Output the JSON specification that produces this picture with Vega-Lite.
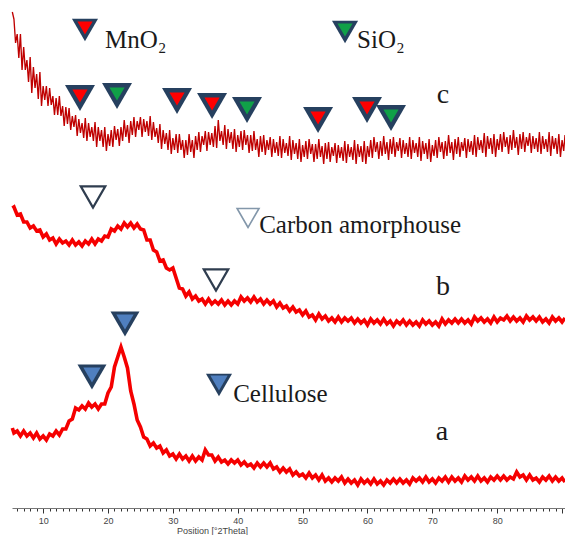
{
"$schema": "https://vega.github.io/schema/vega-lite/v6.json",
"width": 553, "height": 508,
"autosize": {"type": "none"},
"padding": {"left": 12, "top": 0, "right": 0, "bottom": 27},
"background": "white",
"config": {"view": {"stroke": null}},
"datasets": {
"xrd": [
{"x":5.25,"a":80,"b":300},{"x":5.5,"a":75,"b":301},{"x":6,"a":77,"b":293},{"x":6.5,"a":72,"b":294},{"x":7,"a":77,"b":286},{"x":7.5,"a":72,"b":286},{"x":8,"a":75,"b":280},{"x":8.5,"a":70,"b":282},{"x":9,"a":75,"b":277},{"x":9.5,"a":69,"b":278},
{"x":10,"a":72,"b":271},{"x":10.5,"a":68,"b":274},{"x":11,"a":74,"b":268},{"x":11.5,"a":72,"b":270},{"x":12,"a":77,"b":264},{"x":12.5,"a":73,"b":269},{"x":13,"a":79,"b":265},{"x":13.5,"a":79,"b":267},{"x":14,"a":87,"b":263},{"x":14.5,"a":89,"b":268},
{"x":15,"a":100,"b":263},{"x":15.5,"a":98,"b":266},{"x":16,"a":102,"b":262},{"x":16.5,"a":99,"b":267},{"x":17,"a":105,"b":264},{"x":17.5,"a":101,"b":269},{"x":18,"a":104,"b":264},{"x":18.5,"a":99,"b":269},{"x":19,"a":104,"b":267},{"x":19.5,"a":104,"b":272},
{"x":20,"a":115,"b":271},{"x":20.5,"a":121,"b":279},{"x":21,"a":141,"b":277},{"x":21.5,"a":151,"b":282},{"x":22,"a":161,"b":279},{"x":22.5,"a":151,"b":285},{"x":23,"a":140,"b":281},{"x":23.5,"a":117,"b":285},{"x":24,"a":104,"b":280},{"x":24.5,"a":88,"b":284},
{"x":25,"a":81,"b":279},{"x":25.5,"a":71,"b":278},{"x":26,"a":69,"b":268},{"x":26.5,"a":62,"b":268},{"x":27,"a":65,"b":258},{"x":27.5,"a":60,"b":256},{"x":28,"a":62,"b":247},{"x":28.5,"a":55,"b":248},{"x":29,"a":58,"b":240},{"x":29.5,"a":52,"b":238},
{"x":30,"a":54,"b":240},{"x":30.5,"a":49,"b":230},{"x":31,"a":54,"b":220},{"x":31.5,"a":49,"b":219},{"x":32,"a":52,"b":212},{"x":32.5,"a":47,"b":216},{"x":33,"a":52,"b":209},{"x":33.5,"a":47,"b":212},{"x":34,"a":51,"b":207},{"x":34.5,"a":48,"b":209},
{"x":35,"a":58,"b":204},{"x":35.5,"a":53,"b":209},{"x":36,"a":53,"b":204},{"x":36.5,"a":47,"b":207},{"x":37,"a":51,"b":204},{"x":37.5,"a":46,"b":208},{"x":38,"a":48,"b":203},{"x":38.5,"a":44,"b":207},{"x":39,"a":48,"b":203},{"x":39.5,"a":45,"b":207},
{"x":40,"a":48,"b":204},{"x":40.5,"a":43,"b":211},{"x":41,"a":46,"b":207},{"x":41.5,"a":42,"b":210},{"x":42,"a":44,"b":206},{"x":42.5,"a":40,"b":211},{"x":43,"a":45,"b":206},{"x":43.5,"a":41,"b":209},{"x":44,"a":45,"b":204},{"x":44.5,"a":41,"b":208},
{"x":45,"a":45,"b":204},{"x":45.5,"a":39,"b":207},{"x":46,"a":41,"b":201},{"x":46.5,"a":36,"b":205},{"x":47,"a":40,"b":200},{"x":47.5,"a":36,"b":202},{"x":48,"a":39,"b":197},{"x":48.5,"a":33,"b":201},{"x":49,"a":36,"b":196},{"x":49.5,"a":32,"b":198},
{"x":50,"a":34,"b":193},{"x":50.5,"a":30,"b":197},{"x":51,"a":35,"b":191},{"x":51.5,"a":30,"b":193},{"x":52,"a":33,"b":188},{"x":52.5,"a":28,"b":194},{"x":53,"a":33,"b":189},{"x":53.5,"a":27,"b":192},{"x":54,"a":30,"b":187},{"x":54.5,"a":26,"b":190},
{"x":55,"a":30,"b":186},{"x":55.5,"a":27,"b":191},{"x":56,"a":31,"b":186},{"x":56.5,"a":25,"b":190},{"x":57,"a":29,"b":187},{"x":57.5,"a":25,"b":190},{"x":58,"a":28,"b":185},{"x":58.5,"a":23,"b":189},{"x":59,"a":29,"b":185},{"x":59.5,"a":25,"b":188},
{"x":60,"a":28,"b":183},{"x":60.5,"a":24,"b":189},{"x":61,"a":29,"b":185},{"x":61.5,"a":24,"b":188},{"x":62,"a":27,"b":184},{"x":62.5,"a":23,"b":189},{"x":63,"a":28,"b":184},{"x":63.5,"a":25,"b":187},{"x":64,"a":29,"b":182},{"x":64.5,"a":25,"b":187},
{"x":65,"a":29,"b":184},{"x":65.5,"a":25,"b":188},{"x":66,"a":28,"b":183},{"x":66.5,"a":24,"b":187},{"x":67,"a":30,"b":183},{"x":67.5,"a":27,"b":186},{"x":68,"a":30,"b":182},{"x":68.5,"a":26,"b":188},{"x":69,"a":31,"b":184},{"x":69.5,"a":26,"b":187},
{"x":70,"a":29,"b":183},{"x":70.5,"a":25,"b":186},{"x":71,"a":30,"b":182},{"x":71.5,"a":27,"b":189},{"x":72,"a":31,"b":184},{"x":72.5,"a":26,"b":188},{"x":73,"a":31,"b":185},{"x":73.5,"a":27,"b":189},{"x":74,"a":30,"b":185},{"x":74.5,"a":26,"b":189},
{"x":75,"a":32,"b":185},{"x":75.5,"a":28,"b":188},{"x":76,"a":31,"b":184},{"x":76.5,"a":27,"b":191},{"x":77,"a":32,"b":187},{"x":77.5,"a":27,"b":190},{"x":78,"a":30,"b":186},{"x":78.5,"a":26,"b":189},{"x":79,"a":31,"b":185},{"x":79.5,"a":28,"b":191},
{"x":80,"a":32,"b":186},{"x":80.5,"a":28,"b":190},{"x":81,"a":32,"b":188},{"x":81.5,"a":28,"b":192},{"x":82,"a":31,"b":187},{"x":82.5,"a":29,"b":191},{"x":83,"a":36,"b":187},{"x":83.5,"a":31,"b":190},{"x":84,"a":33,"b":186},{"x":84.5,"a":28,"b":192},
{"x":85,"a":33,"b":188},{"x":85.5,"a":28,"b":191},{"x":86,"a":30,"b":187},{"x":86.5,"a":26,"b":191},{"x":87,"a":31,"b":186},{"x":87.5,"a":28,"b":189},{"x":88,"a":32,"b":185},{"x":88.5,"a":27,"b":191},{"x":89,"a":31,"b":187},{"x":89.5,"a":27,"b":190},
{"x":90,"a":30,"b":186},{"x":90.45,"a":26,"b":190}
],
"xrdc": [
{"x":5.25,"c":496},{"x":5.5,"c":489},{"x":5.75,"c":465},{"x":6,"c":474},{"x":6.25,"c":450},{"x":6.5,"c":474},{"x":6.75,"c":438},{"x":7,"c":461},{"x":7.25,"c":438},{"x":7.5,"c":448},{"x":7.75,"c":426},{"x":8,"c":451},{"x":8.25,"c":415},{"x":8.5,"c":441},{"x":8.75,"c":420},{"x":9,"c":434},{"x":9.25,"c":409},{"x":9.5,"c":436},{"x":9.75,"c":402},
{"x":10,"c":422},{"x":10.25,"c":408},{"x":10.5,"c":422},{"x":10.75,"c":402},{"x":11,"c":420},{"x":11.25,"c":403},{"x":11.5,"c":412},{"x":11.75,"c":393},{"x":12,"c":410},{"x":12.25,"c":393},{"x":12.5,"c":412},{"x":12.75,"c":392},{"x":13,"c":402},{"x":13.25,"c":382},{"x":13.5,"c":401},{"x":13.75,"c":384},{"x":14,"c":400},{"x":14.25,"c":378},{"x":14.5,"c":392},{"x":14.75,"c":381},
{"x":15,"c":393},{"x":15.25,"c":372},{"x":15.5,"c":389},{"x":15.75,"c":375},{"x":16,"c":385},{"x":16.25,"c":370},{"x":16.5,"c":390},{"x":16.75,"c":367},{"x":17,"c":385},{"x":17.25,"c":371},{"x":17.5,"c":381},{"x":17.75,"c":367},{"x":18,"c":386},{"x":18.25,"c":361},{"x":18.5,"c":381},{"x":18.75,"c":367},{"x":19,"c":378},{"x":19.25,"c":361},{"x":19.5,"c":381},{"x":19.75,"c":357},
{"x":20,"c":374},{"x":20.25,"c":362},{"x":20.5,"c":378},{"x":20.75,"c":361},{"x":21,"c":382},{"x":21.25,"c":368},{"x":21.5,"c":379},{"x":21.75,"c":362},{"x":22,"c":381},{"x":22.25,"c":367},{"x":22.5,"c":388},{"x":22.75,"c":371},{"x":23,"c":383},{"x":23.25,"c":365},{"x":23.5,"c":387},{"x":23.75,"c":373},{"x":24,"c":391},{"x":24.25,"c":371},{"x":24.5,"c":387},{"x":24.75,"c":378},
{"x":25,"c":391},{"x":25.25,"c":371},{"x":25.5,"c":389},{"x":25.75,"c":376},{"x":26,"c":387},{"x":26.25,"c":372},{"x":26.5,"c":392},{"x":26.75,"c":368},{"x":27,"c":386},{"x":27.25,"c":371},{"x":27.5,"c":380},{"x":27.75,"c":365},{"x":28,"c":384},{"x":28.25,"c":359},{"x":28.5,"c":378},{"x":28.75,"c":364},{"x":29,"c":375},{"x":29.25,"c":358},{"x":29.5,"c":378},{"x":29.75,"c":354},
{"x":30,"c":370},{"x":30.25,"c":358},{"x":30.5,"c":374},{"x":30.75,"c":355},{"x":31,"c":374},{"x":31.25,"c":358},{"x":31.5,"c":368},{"x":31.75,"c":350},{"x":32,"c":368},{"x":32.25,"c":353},{"x":32.5,"c":374},{"x":32.75,"c":356},{"x":33,"c":368},{"x":33.25,"c":350},{"x":33.5,"c":372},{"x":33.75,"c":358},{"x":34,"c":376},{"x":34.25,"c":356},{"x":34.5,"c":372},{"x":34.75,"c":363},
{"x":35,"c":377},{"x":35.25,"c":357},{"x":35.5,"c":376},{"x":35.75,"c":363},{"x":36,"c":375},{"x":36.25,"c":361},{"x":36.5,"c":382},{"x":36.75,"c":360},{"x":37,"c":388},{"x":37.25,"c":367},{"x":37.5,"c":377},{"x":37.75,"c":363},{"x":38,"c":383},{"x":38.25,"c":359},{"x":38.5,"c":379},{"x":38.75,"c":365},{"x":39,"c":376},{"x":39.25,"c":359},{"x":39.5,"c":379},{"x":39.75,"c":356},
{"x":40,"c":373},{"x":40.25,"c":361},{"x":40.5,"c":377},{"x":40.75,"c":358},{"x":41,"c":378},{"x":41.25,"c":363},{"x":41.5,"c":373},{"x":41.75,"c":355},{"x":42,"c":373},{"x":42.25,"c":357},{"x":42.5,"c":377},{"x":42.75,"c":358},{"x":43,"c":369},{"x":43.25,"c":351},{"x":43.5,"c":372},{"x":43.75,"c":356},{"x":44,"c":373},{"x":44.25,"c":353},{"x":44.5,"c":368},{"x":44.75,"c":358},
{"x":45,"c":371},{"x":45.25,"c":351},{"x":45.5,"c":369},{"x":45.75,"c":355},{"x":46,"c":366},{"x":46.25,"c":352},{"x":46.5,"c":372},{"x":46.75,"c":350},{"x":47,"c":369},{"x":47.25,"c":355},{"x":47.5,"c":365},{"x":47.75,"c":352},{"x":48,"c":372},{"x":48.25,"c":348},{"x":48.5,"c":368},{"x":48.75,"c":354},{"x":49,"c":365},{"x":49.25,"c":349},{"x":49.5,"c":369},{"x":49.75,"c":346},
{"x":50,"c":363},{"x":50.25,"c":351},{"x":50.5,"c":367},{"x":50.75,"c":349},{"x":51,"c":369},{"x":51.25,"c":354},{"x":51.5,"c":364},{"x":51.75,"c":346},{"x":52,"c":364},{"x":52.25,"c":349},{"x":52.5,"c":369},{"x":52.75,"c":351},{"x":53,"c":362},{"x":53.25,"c":344},{"x":53.5,"c":365},{"x":53.75,"c":349},{"x":54,"c":366},{"x":54.25,"c":346},{"x":54.5,"c":361},{"x":54.75,"c":352},
{"x":55,"c":365},{"x":55.25,"c":345},{"x":55.5,"c":363},{"x":55.75,"c":350},{"x":56,"c":361},{"x":56.25,"c":347},{"x":56.5,"c":367},{"x":56.75,"c":345},{"x":57,"c":364},{"x":57.25,"c":351},{"x":57.5,"c":361},{"x":57.75,"c":348},{"x":58,"c":368},{"x":58.25,"c":344},{"x":58.5,"c":364},{"x":58.75,"c":351},{"x":59,"c":362},{"x":59.25,"c":346},{"x":59.5,"c":367},{"x":59.75,"c":344},
{"x":60,"c":362},{"x":60.25,"c":351},{"x":60.5,"c":368},{"x":60.75,"c":350},{"x":61,"c":371},{"x":61.25,"c":356},{"x":61.5,"c":366},{"x":61.75,"c":349},{"x":62,"c":367},{"x":62.25,"c":352},{"x":62.5,"c":372},{"x":62.75,"c":354},{"x":63,"c":366},{"x":63.25,"c":348},{"x":63.5,"c":369},{"x":63.75,"c":354},{"x":64,"c":371},{"x":64.25,"c":351},{"x":64.5,"c":366},{"x":64.75,"c":357},
{"x":65,"c":370},{"x":65.25,"c":350},{"x":65.5,"c":368},{"x":65.75,"c":354},{"x":66,"c":365},{"x":66.25,"c":351},{"x":66.5,"c":371},{"x":66.75,"c":349},{"x":67,"c":368},{"x":67.25,"c":355},{"x":67.5,"c":365},{"x":67.75,"c":351},{"x":68,"c":371},{"x":68.25,"c":347},{"x":68.5,"c":367},{"x":68.75,"c":354},{"x":69,"c":365},{"x":69.25,"c":349},{"x":69.5,"c":369},{"x":69.75,"c":346},
{"x":70,"c":363},{"x":70.25,"c":352},{"x":70.5,"c":368},{"x":70.75,"c":350},{"x":71,"c":371},{"x":71.25,"c":356},{"x":71.5,"c":366},{"x":71.75,"c":349},{"x":72,"c":367},{"x":72.25,"c":352},{"x":72.5,"c":373},{"x":72.75,"c":355},{"x":73,"c":366},{"x":73.25,"c":348},{"x":73.5,"c":369},{"x":73.75,"c":354},{"x":74,"c":371},{"x":74.25,"c":351},{"x":74.5,"c":366},{"x":74.75,"c":357},
{"x":75,"c":370},{"x":75.25,"c":350},{"x":75.5,"c":369},{"x":75.75,"c":356},{"x":76,"c":367},{"x":76.25,"c":353},{"x":76.5,"c":373},{"x":76.75,"c":351},{"x":77,"c":371},{"x":77.25,"c":358},{"x":77.5,"c":368},{"x":77.75,"c":355},{"x":78,"c":375},{"x":78.25,"c":351},{"x":78.5,"c":372},{"x":78.75,"c":359},{"x":79,"c":370},{"x":79.25,"c":354},{"x":79.5,"c":374},{"x":79.75,"c":351},
{"x":80,"c":369},{"x":80.25,"c":358},{"x":80.5,"c":374},{"x":80.75,"c":356},{"x":81,"c":376},{"x":81.25,"c":361},{"x":81.5,"c":371},{"x":81.75,"c":354},{"x":82,"c":373},{"x":82.25,"c":358},{"x":82.5,"c":378},{"x":82.75,"c":360},{"x":83,"c":371},{"x":83.25,"c":353},{"x":83.5,"c":374},{"x":83.75,"c":359},{"x":84,"c":376},{"x":84.25,"c":356},{"x":84.5,"c":371},{"x":84.75,"c":362},
{"x":85,"c":375},{"x":85.25,"c":355},{"x":85.5,"c":372},{"x":85.75,"c":359},{"x":86,"c":370},{"x":86.25,"c":356},{"x":86.5,"c":376},{"x":86.75,"c":354},{"x":87,"c":372},{"x":87.25,"c":359},{"x":87.5,"c":369},{"x":87.75,"c":356},{"x":88,"c":376},{"x":88.25,"c":352},{"x":88.5,"c":372},{"x":88.75,"c":359},{"x":89,"c":370},{"x":89.25,"c":354},{"x":89.5,"c":374},{"x":89.75,"c":351},
{"x":90,"c":368},{"x":90.25,"c":357},{"x":90.45,"c":373}
],
"markers": [
{"x":16.45,"y":478,"kind":"MnO2","role":"key"},
{"x":56.54,"y":476,"kind":"SiO2","role":"key"},
{"x":15.68,"y":410,"kind":"MnO2","role":"peak"},
{"x":21.39,"y":412,"kind":"SiO2","role":"peak"},
{"x":30.64,"y":407,"kind":"MnO2","role":"peak"},
{"x":36.04,"y":402,"kind":"MnO2","role":"peak"},
{"x":41.43,"y":398,"kind":"SiO2","role":"peak"},
{"x":52.38,"y":388,"kind":"MnO2","role":"peak"},
{"x":59.93,"y":398,"kind":"MnO2","role":"peak"},
{"x":63.63,"y":390,"kind":"SiO2","role":"peak"},
{"x":17.69,"y":311,"kind":"Carbon","role":"peak"},
{"x":36.65,"y":228,"kind":"Carbon","role":"peak"},
{"x":41.59,"y":290,"kind":"Carbon","role":"key"},
{"x":17.53,"y":131,"kind":"Cellulose","role":"peak"},
{"x":22.62,"y":184,"kind":"Cellulose","role":"peak"},
{"x":37.11,"y":123,"kind":"Cellulose","role":"key"}
],
"labels": [
{"x":19.54,"y":460,"text":"MnO₂","role":"key"},
{"x":58.39,"y":460,"text":"SiO₂","role":"key"},
{"x":43.3,"y":275,"text":"Carbon amorphouse","role":"key"},
{"x":39.3,"y":106,"text":"Cellulose","role":"key"},
{"x":71.65,"y":405,"text":"c","role":"sample"},
{"x":71.65,"y":213,"text":"b","role":"sample"},
{"x":71.5,"y":68,"text":"a","role":"sample"}
]
},
"encoding": {
"x": {"field": "x", "type": "quantitative",
 "scale": {"domain": [5.2, 90.45], "nice": false, "zero": false},
 "axis": {
  "values": [6,7,8,9,10,11,12,13,14,15,16,17,18,19,20,21,22,23,24,25,26,27,28,29,30,31,32,33,34,35,36,37,38,39,40,41,42,43,44,45,46,47,48,49,50,51,52,53,54,55,56,57,58,59,60,61,62,63,64,65,66,67,68,69,70,71,72,73,74,75,76,77,78,79,80,81,82,83,84,85,86,87,88,89,90],
  "labelExpr": "datum.value % 10 === 0 && datum.value < 90 ? datum.label : ''",
  "labelOverlap": false, "labelBound": false, "labelFlush": false,
  "tickSize": {"condition": {"test": "datum.value % 10 === 0", "value": 5}, "value": 3},
  "tickColor": "#333", "domainColor": "#777", "grid": false,
  "labelFont": "Liberation Sans", "labelFontSize": 9, "labelColor": "#444", "labelPadding": 3,
  "title": "Position [°2Theta]", "titleFont": "Liberation Sans", "titleFontSize": 9, "titleFontWeight": "normal", "titleColor": "#444",
  "titleX": 200, "titleY": 25, "titleAlign": "center", "titleBaseline": "alphabetic", "titleAnchor": null
 }}
},
"layer": [
{"data": {"name": "xrdc"}, "mark": {"type": "line", "color": "#bf0000", "strokeWidth": 1.35},
 "encoding": {"y": {"field": "c", "type": "quantitative", "scale": {"domain": [0, 508], "nice": false, "zero": false}, "axis": null}}},
{"data": {"name": "xrd"}, "mark": {"type": "line", "color": "#f50000", "strokeWidth": 3.6},
 "encoding": {"y": {"field": "b", "type": "quantitative", "scale": {"domain": [0, 508], "nice": false, "zero": false}, "axis": null}}},
{"data": {"name": "xrd"}, "mark": {"type": "line", "color": "#f50000", "strokeWidth": 3.6},
 "encoding": {"y": {"field": "a", "type": "quantitative", "scale": {"domain": [0, 508], "nice": false, "zero": false}, "axis": null}}},
{"data": {"name": "markers"}, "transform": [{"filter": "(datum.kind === 'MnO2' || datum.kind === 'SiO2') && datum.role === 'peak'"}],
 "mark": {"type": "point", "shape": "triangle-down", "filled": true, "size": 900, "color": "#26405f", "opacity": 1},
 "encoding": {"y": {"field": "y", "type": "quantitative", "scale": {"domain": [0, 508], "nice": false, "zero": false}, "axis": null}}},
{"data": {"name": "markers"}, "transform": [{"filter": "(datum.kind === 'MnO2' || datum.kind === 'SiO2' || datum.kind === 'Cellulose') && datum.role === 'key'"}],
 "mark": {"type": "point", "shape": "triangle-down", "filled": true, "size": 680, "color": "#26405f", "opacity": 1},
 "encoding": {"y": {"field": "y", "type": "quantitative", "scale": {"domain": [0, 508], "nice": false, "zero": false}, "axis": null}}},
{"data": {"name": "markers"}, "transform": [{"filter": "datum.kind === 'Cellulose' && datum.role === 'peak'"}],
 "mark": {"type": "point", "shape": "triangle-down", "filled": true, "size": 840, "color": "#26405f", "opacity": 1},
 "encoding": {"y": {"field": "y", "type": "quantitative", "scale": {"domain": [0, 508], "nice": false, "zero": false}, "axis": null}}},
{"data": {"name": "markers"}, "transform": [{"filter": "datum.kind === 'MnO2'"}],
 "mark": {"type": "point", "shape": "triangle-down", "filled": true, "size": 230, "color": "#ff0000", "opacity": 1, "yOffset": -2},
 "encoding": {"y": {"field": "y", "type": "quantitative", "scale": {"domain": [0, 508], "nice": false, "zero": false}, "axis": null}}},
{"data": {"name": "markers"}, "transform": [{"filter": "datum.kind === 'SiO2'"}],
 "mark": {"type": "point", "shape": "triangle-down", "filled": true, "size": 230, "color": "#10a048", "opacity": 1, "yOffset": -2},
 "encoding": {"y": {"field": "y", "type": "quantitative", "scale": {"domain": [0, 508], "nice": false, "zero": false}, "axis": null}}},
{"data": {"name": "markers"}, "transform": [{"filter": "datum.kind === 'Cellulose'"}],
 "mark": {"type": "point", "shape": "triangle-down", "filled": true, "size": 300, "color": "#4f7fbf", "opacity": 1, "yOffset": -2},
 "encoding": {"y": {"field": "y", "type": "quantitative", "scale": {"domain": [0, 508], "nice": false, "zero": false}, "axis": null}}},
{"data": {"name": "markers"}, "transform": [{"filter": "datum.kind === 'Carbon' && datum.role === 'peak'"}],
 "mark": {"type": "point", "shape": "triangle-down", "filled": false, "fill": "white", "fillOpacity": 1, "size": 600, "stroke": "#2f3d4f", "strokeWidth": 2.2, "opacity": 1},
 "encoding": {"y": {"field": "y", "type": "quantitative", "scale": {"domain": [0, 508], "nice": false, "zero": false}, "axis": null}}},
{"data": {"name": "markers"}, "transform": [{"filter": "datum.kind === 'Carbon' && datum.role === 'key'"}],
 "mark": {"type": "point", "shape": "triangle-down", "filled": false, "fill": "white", "fillOpacity": 1, "size": 480, "stroke": "#8397aa", "strokeWidth": 1.6, "opacity": 1},
 "encoding": {"y": {"field": "y", "type": "quantitative", "scale": {"domain": [0, 508], "nice": false, "zero": false}, "axis": null}}},
{"data": {"name": "labels"}, "transform": [{"filter": "datum.role === 'key'"}],
 "mark": {"type": "text", "align": "left", "baseline": "alphabetic", "font": "Liberation Serif", "fontSize": 25, "color": "#1a1a1a"},
 "encoding": {"y": {"field": "y", "type": "quantitative", "scale": {"domain": [0, 508], "nice": false, "zero": false}, "axis": null}, "text": {"field": "text"}}},
{"data": {"name": "labels"}, "transform": [{"filter": "datum.role === 'sample'"}],
 "mark": {"type": "text", "align": "center", "baseline": "alphabetic", "font": "Liberation Serif", "fontSize": 28, "color": "#1a1a1a"},
 "encoding": {"y": {"field": "y", "type": "quantitative", "scale": {"domain": [0, 508], "nice": false, "zero": false}, "axis": null}, "text": {"field": "text"}}}
]
}
